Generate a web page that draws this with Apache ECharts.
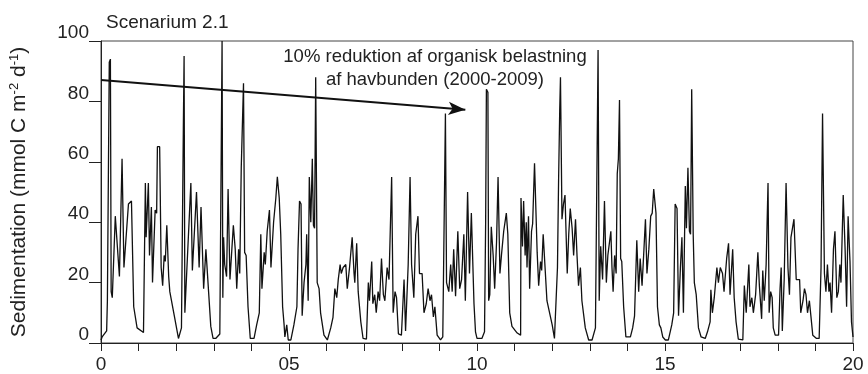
<!DOCTYPE html>
<html>
<head>
<meta charset="utf-8">
<script src="https://cdn.jsdelivr.net/npm/echarts@6/dist/echarts.min.js"></script>
<style>html,body{margin:0;padding:0;background:#fff;}#c{width:868px;height:374px;}</style>
</head>
<body>
<div id="c"></div>
<script>
// Sedimentation (mmol C m-2 d-1) vs time (years)
const sed00_05 = [
[0.00,1],[0.03,2],[0.15,4],[0.17,14],[0.20,14],[0.22,93],[0.25,94],[0.27,17],[0.30,15],[0.38,42],[0.49,22],[0.56,61],[0.61,25],[0.73,46],[0.81,47],[0.87,12],[0.96,5],[1.13,3.5],
[1.15,4],[1.18,53],[1.20,35],[1.26,53],[1.29,29],[1.34,45],[1.37,20],[1.44,44],[1.48,43],[1.50,65],[1.56,65],[1.60,25],[1.64,19],[1.68,29],[1.71,27],[1.75,39],[1.80,22],[1.83,17],[1.95,9],[2.06,1.5],
[2.14,5],[2.19,71],[2.21,95],[2.23,10],[2.27,10],[2.39,53],[2.43,24],[2.54,50],[2.61,25],[2.66,45],[2.73,18],[2.79,31],[2.92,5.5],[2.98,1.5],[3.05,1.5],[3.16,3],
[3.22,100],[3.24,15],[3.26,35],[3.29,26],[3.34,22],[3.38,51],[3.43,21],[3.48,31],[3.52,39],[3.57,31],[3.61,18],[3.66,31],[3.69,23],[3.73,58],[3.79,86],[3.82,30],[3.86,29],[3.91,12],[3.97,1.5],[4.07,1.5],
[4.14,6],[4.21,10],[4.25,36],[4.28,18],[4.34,30],[4.37,26],[4.42,37],[4.48,44],[4.52,25],[4.59,40],[4.65,48],[4.69,55],[4.74,48],[4.78,36],[4.83,12],[4.87,6],[4.89,2],[4.94,6],[4.98,1],[5.05,1]
];
const sed05_10 = [
[5.13,6],[5.21,12],[5.24,31],[5.28,47],[5.32,46],[5.35,9],[5.40,20],[5.45,26],[5.47,36],[5.51,14],[5.54,55],[5.58,40],[5.62,61],[5.65,39],[5.68,38],[5.71,88],[5.75,20],[5.80,18],[5.84,10],[5.93,2.6],[6.02,1],
[6.11,5],[6.17,8.5],[6.22,18],[6.27,15],[6.31,21],[6.36,26],[6.39,23],[6.44,25],[6.51,26],[6.55,18],[6.61,25],[6.68,35],[6.73,23],[6.75,20],[6.80,33],[6.84,17],[6.91,7],[6.97,1.5],[7.06,1.3],
[7.11,20],[7.14,14],[7.20,27],[7.23,13],[7.28,16],[7.32,10],[7.37,17],[7.41,14],[7.46,28],[7.51,16],[7.55,14],[7.61,25],[7.66,21],[7.73,55],[7.77,10],[7.82,17],[7.86,15],[7.91,3],[7.99,2.6],
[8.06,21],[8.10,4],[8.17,26],[8.22,55],[8.26,26],[8.32,15],[8.37,36],[8.43,42],[8.47,23],[8.54,23],[8.59,10],[8.65,13],[8.70,18],[8.75,14],[8.79,16],[8.84,8.6],[8.88,12],[8.94,2.6],[9.03,1],[9.09,2],
[9.16,76],[9.19,20],[9.25,17],[9.30,26],[9.34,17],[9.38,31],[9.43,15.5],[9.49,37],[9.54,18],[9.59,21],[9.65,36],[9.69,14],[9.75,50],[9.80,23],[9.85,43],[9.92,13],[9.96,3.7],[10.0,1.5],[10.13,1.5]
];
const sed10_15 = [
[10.20,3.7],[10.23,40],[10.25,84],[10.29,83],[10.31,14],[10.34,16],[10.38,38.5],[10.43,29],[10.47,18],[10.52,33.5],[10.56,55],[10.61,23],[10.65,29],[10.71,37],[10.78,43],[10.82,36],[10.87,10],[10.93,5.5],[11.07,3.3],[11.16,2.6],
[11.17,48],[11.21,32],[11.24,47],[11.28,29],[11.31,40],[11.33,25],[11.37,42],[11.40,18],[11.45,37],[11.48,39.5],[11.53,59.5],[11.56,59.5],[11.60,30],[11.64,19],[11.69,27],[11.72,24],[11.76,36],[11.81,25],[11.86,14],[12.00,6],[12.06,1.5],
[12.14,25],[12.17,54],[12.20,77],[12.22,88],[12.26,41],[12.30,46],[12.34,49],[12.40,23],[12.44,36],[12.48,44.5],[12.53,38],[12.57,29],[12.62,41],[12.66,29],[12.70,19],[12.75,25],[12.79,14],[12.88,5],[12.97,1],[13.06,1],[13.15,5],
[13.22,97],[13.25,14],[13.29,32],[13.34,21],[13.39,47],[13.44,20],[13.48,29],[13.52,29],[13.56,37],[13.59,25],[13.62,17],[13.66,29],[13.70,23],[13.73,56],[13.76,61],[13.79,80.5],[13.82,28],[13.85,27],[13.90,12],[13.96,2],[14.08,2],
[14.14,5],[14.19,9],[14.25,34],[14.30,17],[14.34,28],[14.39,19],[14.44,31],[14.48,41],[14.52,23],[14.57,31],[14.62,42],[14.66,43],[14.70,51],[14.76,43],[14.80,12],[14.85,6],[14.89,5],[14.94,2],[15.01,1],[15.09,1]
];
const sed15_20 = [
[15.18,6],[15.23,10],[15.27,46],[15.32,44.5],[15.36,9],[15.41,25],[15.45,35],[15.49,10],[15.54,52],[15.57,38],[15.61,58],[15.65,37],[15.68,36],[15.71,84],[15.75,36],[15.78,20],[15.83,16],[15.89,5],[15.96,2],[16.07,1.5],
[16.13,3.7],[16.20,7],[16.22,17.6],[16.26,10],[16.31,15],[16.38,25],[16.42,20],[16.47,25],[16.53,23],[16.57,17],[16.64,28],[16.69,33],[16.73,16],[16.80,31],[16.84,15],[16.89,7],[16.95,1.3],[17.07,1],
[17.11,19],[17.16,10],[17.23,26],[17.26,12],[17.31,15],[17.35,10],[17.41,16],[17.47,30],[17.51,19],[17.57,8],[17.60,24],[17.64,14],[17.69,26],[17.74,53],[17.77,10],[17.81,17],[17.85,15],[17.88,5],[17.93,2.6],[18.02,2.6],
[18.06,18],[18.09,25],[18.12,4],[18.17,21],[18.22,53],[18.27,25],[18.31,16],[18.35,35],[18.43,41],[18.49,21],[18.58,21],[18.61,10],[18.67,14],[18.71,18],[18.75,16],[18.79,10],[18.84,14],[18.88,9],[18.93,2.6],[19.03,1.5],[19.10,1.5],
[19.15,25],[19.19,76],[19.24,23],[19.28,17],[19.32,26],[19.36,17],[19.39,20],[19.43,10],[19.48,31],[19.52,37],[19.57,15],[19.61,17],[19.65,26],[19.68,20],[19.74,49],[19.79,31],[19.83,12],[19.87,42],[19.92,27],[19.96,7],[20.0,2]
];
const xTickLabels = {0:'0', 5:'05', 10:'10', 15:'15', 20:'20'};
const yTickLabels = [0, 20, 40, 60, 80, 100];
const arrowStart = [0, 87.1];
const arrowEnd = [9.69, 77.2];
const titleText = 'Scenarium 2.1';
const noteText = '10% reduktion af organisk belastning\naf havbunden (2000-2009)';

const sedData = sed00_05.concat(sed05_10, sed10_15, sed15_20);

const FONT = 'Liberation Sans, Arial, sans-serif';
const chart = echarts.init(document.getElementById('c'), null, {renderer: 'canvas'});
chart.setOption({
  animation: false,
  backgroundColor: '#fff',
  title: {
    text: titleText, left: 101, top: 8,
    textStyle: {fontFamily: FONT, fontSize: 19, fontWeight: 'normal', color: '#222'}
  },
  grid: {left: 100, right: 15, top: 41, bottom: 31, show: true, borderColor: '#444', borderWidth: 1},
  xAxis: {
    type: 'value', min: 0, max: 20, interval: 1,
    axisLine: {lineStyle: {color: '#222', width: 1}},
    axisTick: {show: true, length: 8, lineStyle: {color: '#222'}},
    splitLine: {show: false},
    axisLabel: {
      margin: 12, fontFamily: FONT, fontSize: 19, color: '#222',
      formatter: v => (xTickLabels[v] !== undefined ? xTickLabels[v] : '')
    }
  },
  yAxis: {
    type: 'value', min: 0, max: 100, interval: 20,
    axisLine: {show: true, lineStyle: {color: '#222', width: 1}},
    axisTick: {show: true, length: 12, lineStyle: {color: '#222'}},
    splitLine: {show: false},
    axisLabel: {
      margin: 12, fontFamily: FONT, fontSize: 19, color: '#222', verticalAlign: 'bottom', lineHeight: 16,
      formatter: v => (yTickLabels.indexOf(v) >= 0 ? String(v) : '')
    },
    name: 'Sedimentation (mmol C m{sup|-2} d{sup|-1})',
    nameLocation: 'middle', nameGap: 70, nameRotate: 90,
    nameTextStyle: {
      fontFamily: FONT, fontSize: 21, color: '#222',
      rich: {sup: {fontFamily: FONT, fontSize: 13, color: '#222', verticalAlign: 'top', padding: [0, 0, 10, 0]}}
    }
  },
  graphic: [{
    type: 'text', x: 435, y: 45,
    style: {text: noteText, textAlign: 'center', textVerticalAlign: 'top', fontFamily: FONT, fontSize: 18.5, lineHeight: 23, fill: '#222'}
  }],
  series: [{
    type: 'line', data: sedData, showSymbol: false, symbol: 'none',
    lineStyle: {color: '#111', width: 1.3},
    markLine: {
      silent: true, symbol: ['none', 'arrow'], symbolSize: [10, 17],
      lineStyle: {color: '#111', width: 2, type: 'solid'},
      label: {show: false},
      data: [[{coord: arrowStart}, {coord: arrowEnd}]]
    }
  }]
});
</script>
</body>
</html>
